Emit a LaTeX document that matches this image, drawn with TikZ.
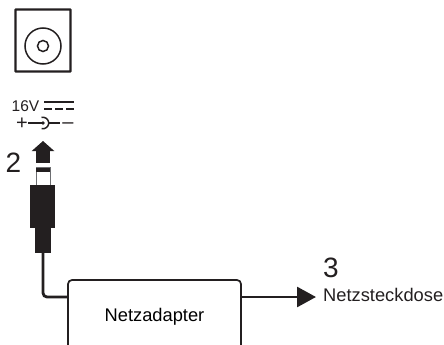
\documentclass[tikz,border=0pt]{standalone}
\usepackage{fontspec}
\setmainfont{Liberation Sans}
\usetikzlibrary{arrows.meta,calc,positioning}
\definecolor{printblack}{HTML}{231F20}
\definecolor{plugedge}{HTML}{6D6E71}
\tikzset{
  socketline/.style={draw=printblack,line width=1.5pt},
  plugblock/.style={fill=printblack,inner sep=0pt,minimum width=#1},
  plugblock/.default=25pt,
  cable/.style={draw=printblack,line width=2.8pt,rounded corners=4pt},
  adapterbox/.style={draw=printblack,line width=1.7pt,rounded corners=4pt,inner sep=0pt,minimum width=173pt,minimum height=74pt,font=\fontsize{18.3}{20}\selectfont},
  stepnumber/.style={inner sep=0pt,text=printblack,font=\fontsize{28}{30}\selectfont},
  polaritytext/.style={inner sep=0pt,anchor=base,text=printblack,font=\fontsize{20}{22}\selectfont}
}
\begin{document}
\begin{tikzpicture}[x=1pt,y=-1pt]
  \useasboundingbox (0,0) rectangle (444,345);
  % socket
  \node[draw=printblack,line width=2.2pt,rounded corners=0.5pt,minimum width=55pt,minimum height=62pt,inner sep=0pt] (socket) at (43,40.5) {};
  \node[circle,socketline,minimum size=36pt,inner sep=0pt] (ring) at (43,46) {};
  \node[circle,socketline,minimum size=11pt,inner sep=0pt] (pin) at (43,46) {};
  % rating
  \node[inner sep=0pt,anchor=base west,text=printblack,font=\fontsize{15.5}{17}\selectfont] (rating) at (11.5,111) {16V};
  \coordinate (dcleft) at (44,102);
  \coordinate (dcright) at (74,102);
  \draw[socketline] (dcleft) -- (dcright);
  \draw[socketline,dash pattern=on 8pt off 3pt] ($(dcleft)+(0,7)$) -- ($(dcright)+(0,7)$);
  \node[polaritytext] (plus) at (22,129.7) {+};
  \node[polaritytext] (minus) at (68,128.5) {--};
  \coordinate (barrel) at (43,123);
  \fill[printblack] (barrel) circle (1.9pt);
  \draw[socketline] (28,123) -- (barrel);
  \draw[socketline] ($(barrel)+(-1.5,-5.5)$) arc[start angle=105,end angle=-105,radius=5.7pt];
  \draw[socketline] ($(barrel)+(5.7,0)$) -- (60,123);
  % plug
  \node[draw=plugedge,line width=1pt,inner sep=0pt,minimum width=14pt,minimum height=18pt] (plugtip) at (43,176) {};
  \node[plugblock=14.5pt,minimum height=4pt] (plugband) at (43,169.5) {};
  \node[plugblock,minimum height=43pt] (plugbody) at (42.5,206.5) {};
  \node[plugblock=16pt,minimum height=25pt] (plugneck) at (43,240.5) {};
  \coordinate (jack) at (43,141);
  \draw[line width=14pt,draw=printblack,shorten <=4pt,-{Triangle[length=10pt,width=22pt,color=printblack]}] (plugtip.north) -- (jack);
  \node[stepnumber] (steptwo) at (13.5,163) {2};
  % adapter
  \node[adapterbox] (adapter) at (154.5,317) {Netzadapter};
  \coordinate (cablein) at (adapter.west |- 0,297);
  \coordinate (cableout) at (adapter.east |- 0,297);
  \draw[cable] (plugneck.south) |- (cablein);
  % mains
  \node[inner sep=0pt,anchor=west,font=\fontsize{18.3}{20}\selectfont,text=printblack] (mains) at (323,295) {Netzsteckdose};
  \node[stepnumber,anchor=south west] (stepthree) at (323,278) {3};
  \coordinate (mainsend) at (316,297);
  \draw[draw=printblack,line width=2.8pt,-{Triangle[length=19pt,width=20pt,color=printblack]}] (cableout) -- (mainsend);
\end{tikzpicture}
\end{document}
